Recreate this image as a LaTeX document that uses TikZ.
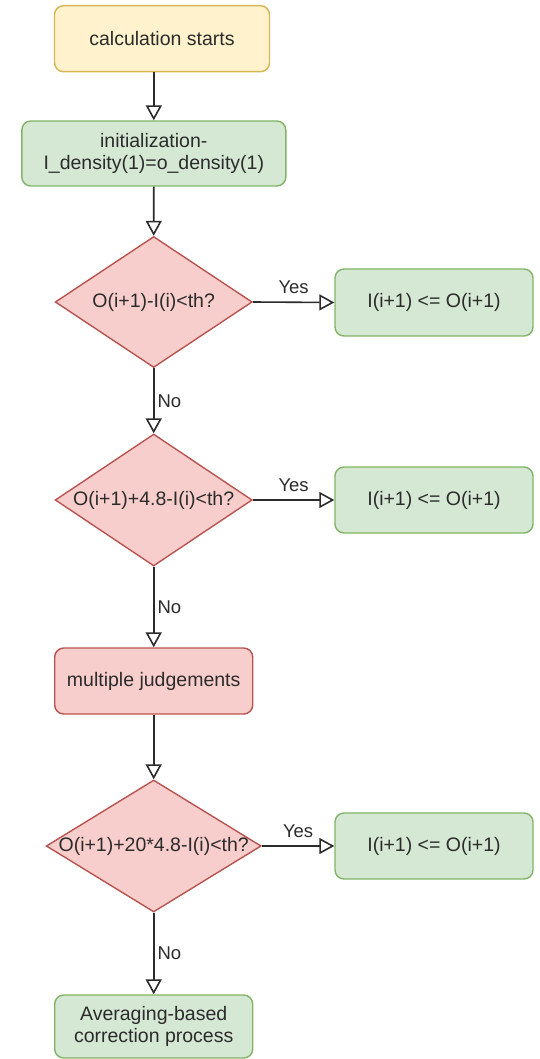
\documentclass[tikz,border=0pt]{standalone}
\usepackage{fontspec}
\setmainfont{Liberation Sans}
\usetikzlibrary{shapes.geometric,arrows.meta}

\definecolor{yelfill}{HTML}{FFF2CC}
\definecolor{yeldraw}{HTML}{D6B656}
\definecolor{grnfill}{HTML}{D5E8D4}
\definecolor{grndraw}{HTML}{82B366}
\definecolor{redfill}{HTML}{F8CECC}
\definecolor{reddraw}{HTML}{B85450}
\definecolor{inkgray}{HTML}{2B2B2B}

\tikzset{
  base/.style={line width=1.4pt, inner sep=0pt, align=center, text=inkgray,
    font=\fontsize{19.5}{22}\selectfont},
  boxY/.style={base, rectangle, rounded corners=9pt, draw=yeldraw, fill=yelfill},
  boxG/.style={base, rectangle, rounded corners=9pt, draw=grndraw, fill=grnfill},
  boxR/.style={base, rectangle, rounded corners=9pt, draw=reddraw, fill=redfill},
  decide/.style={base, diamond, draw=reddraw, fill=redfill},
  flow/.style={draw=inkgray, line width=1.6pt,
    -{Triangle[open, length=15pt, width=16pt, line width=1.6pt]}},
  yeslbl/.style={midway, anchor=south, inner sep=0pt, yshift=8pt, text=inkgray,
    font=\fontsize{18.5}{20}\selectfont},
  nolbl/.style={midway, anchor=west, inner sep=0pt, xshift=3pt, text=inkgray,
    font=\fontsize{18.5}{20}\selectfont},
}

\begin{document}
\begin{tikzpicture}[x=1pt, y=-1pt]
  \useasboundingbox (0,0) rectangle (539,1059);

  % main column
  \node[boxY, minimum width=215pt, minimum height=66pt] (start) at (162,38.7) {calculation starts};
  \node[boxG, minimum width=264pt, minimum height=65pt] (init) at (153.8,153.5)
    {initialization-\\I\_density(1)=o\_density(1)};
  \node[decide, minimum width=197pt, minimum height=131pt] (d1) at (153.7,302)
    {\makebox[0pt]{O(i+1)-I(i)<th?}};
  \node[decide, minimum width=197pt, minimum height=132pt] (d2) at (153.7,500)
    {\makebox[0pt]{O(i+1)+4.8-I(i)<th?}};
  \node[boxR, minimum width=198pt, minimum height=66pt] (mj) at (153.7,681) {multiple judgements};
  \node[decide, minimum width=215pt, minimum height=132pt] (d3) at (153.7,846)
    {\makebox[0pt]{O(i+1)+20*4.8-I(i)<th?}};
  \node[boxG, minimum width=198pt, minimum height=63pt] (avg) at (153.7,1026.5)
    {Averaging-based\\correction process};

  % right-hand results
  \node[boxG, minimum width=198pt, minimum height=67pt] (y1) at (434,302.5) {I(i+1) <= O(i+1)};
  \node[boxG, minimum width=198pt, minimum height=66pt] (y2) at (434,500) {I(i+1) <= O(i+1)};
  \node[boxG, minimum width=198pt, minimum height=66pt] (y3) at (434,846) {I(i+1) <= O(i+1)};

  % connectors
  \draw[flow] (start.south -| init.north) -- (init.north);
  \draw[flow] (init.south) -- (d1.north);
  \draw[flow] (d1.east) -- node[yeslbl] {Yes} (y1.west);
  \draw[flow] (d1.south) -- node[nolbl] {No} (d2.north);
  \draw[flow] (d2.east) -- node[yeslbl] {Yes} (y2.west);
  \draw[flow] (d2.south) -- node[nolbl] {No} (mj.north);
  \draw[flow] (mj.south) -- (d3.north);
  \draw[flow] (d3.east) -- node[yeslbl] {Yes} (y3.west);
  \draw[flow] (d3.south) -- node[nolbl] {No} (avg.north);
\end{tikzpicture}
\end{document}
